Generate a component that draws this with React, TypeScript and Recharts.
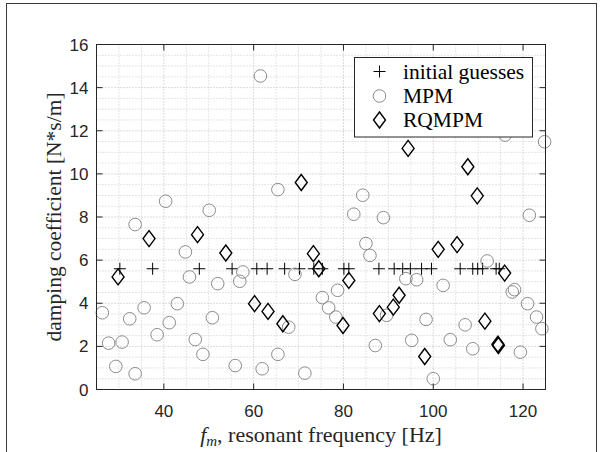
import React from 'react';
import { ScatterChart, Scatter, XAxis, YAxis, CartesianGrid } from 'recharts';

// initial guesses (+)
const guessFreq = [30.2, 37.5, 47.9, 55.2, 60.7, 63.0, 66.9, 70.2, 73.4, 75.3, 80.1, 81.2, 87.9, 91.3, 93.2, 94.9, 97.4, 99.6, 106.0, 108.8, 109.9, 111.0, 114.0, 114.7];
const guessDamp = [5.6, 5.6, 5.6, 5.6, 5.6, 5.6, 5.6, 5.6, 5.6, 5.6, 5.6, 5.6, 5.6, 5.6, 5.6, 5.6, 5.6, 5.6, 5.6, 5.6, 5.6, 5.6, 5.6, 5.6];

// MPM (grey circles)
const mpmFreq = [26.3, 27.7, 29.3, 30.7, 32.4, 33.6, 33.6, 35.6, 38.5, 40.4, 41.2, 43.0, 44.8, 45.7, 47.0, 48.7, 50.1, 50.8, 52.0, 55.9, 56.9, 57.6, 61.5, 61.9, 65.4, 65.4, 67.8, 69.2, 71.4, 75.3, 76.7, 78.3, 78.7, 82.3, 84.3, 85.0, 85.9, 87.1, 88.9, 89.6, 93.9, 95.2, 96.3, 98.4, 100.0, 102.2, 103.8, 107.1, 108.8, 112.0, 116.0, 117.6, 118.1, 119.4, 121.0, 121.4, 123.0, 124.2, 124.8];
const mpmDamp = [3.56, 2.15, 1.07, 2.2, 3.28, 7.65, 0.73, 3.79, 2.54, 8.73, 3.1, 3.98, 6.38, 5.22, 2.32, 1.63, 8.31, 3.33, 4.91, 1.11, 5.02, 5.45, 14.54, 0.96, 9.27, 1.63, 2.89, 5.34, 0.76, 4.26, 3.79, 3.36, 4.6, 8.13, 9.01, 6.77, 6.22, 2.04, 7.97, 3.44, 5.14, 2.28, 5.09, 3.25, 0.5, 4.83, 2.31, 3.0, 1.89, 5.96, 11.8, 4.52, 4.63, 1.73, 3.98, 8.08, 3.36, 2.82, 11.49];

// RQMPM (black diamonds)
const rqFreq = [29.8, 36.7, 47.5, 53.8, 60.2, 63.2, 66.5, 70.6, 73.3, 74.5, 79.9, 81.2, 88.0, 91.1, 92.4, 94.4, 98.1, 101.1, 105.3, 107.7, 109.8, 111.5, 114.4, 114.5, 115.9];
const rqDamp = [5.22, 7.0, 7.18, 6.33, 3.98, 3.62, 3.05, 9.6, 6.3, 5.6, 2.97, 5.06, 3.52, 3.82, 4.37, 11.18, 1.53, 6.5, 6.72, 10.33, 8.98, 3.17, 2.1, 2.04, 5.4];

const xTicks = [40, 60, 80, 100, 120];
const yTicks = [0, 2, 4, 6, 8, 10, 12, 14, 16];
const xMinor = [25, 30, 35, 45, 50, 55, 65, 70, 75, 85, 90, 95, 105, 110, 115, 125];
const yMinor = [0.5, 1, 1.5, 2.5, 3, 3.5, 4.5, 5, 5.5, 6.5, 7, 7.5, 8.5, 9, 9.5, 10.5, 11, 11.5, 12.5, 13, 13.5, 14.5, 15, 15.5];

const X_MIN = 25;
const X_MAX = 125;
const Y_MIN = 0;
const Y_MAX = 16;

// plot box (matches chart margins + axis sizes below)
const W = 603;
const H = 452;
const M = { top: 44.5, right: 57.5, bottom: 32.5, left: 56.5 };
const Y_AXIS_W = 40;
const X_AXIS_H = 30;
const BOX_L = M.left + Y_AXIS_W;
const BOX_R = W - M.right;
const BOX_T = M.top;
const BOX_B = H - M.bottom - X_AXIS_H;
const sx = (v: number) => BOX_L + ((v - X_MIN) / (X_MAX - X_MIN)) * (BOX_R - BOX_L);
const sy = (v: number) => BOX_B - ((v - Y_MIN) / (Y_MAX - Y_MIN)) * (BOX_B - BOX_T);
const TICK = 6;

const toPoints = (xs: number[], ys: number[]) => xs.map((x, i) => ({ x, y: ys[i] }));
const guessData = toPoints(guessFreq, guessDamp);
const mpmData = toPoints(mpmFreq, mpmDamp);
const rqData = toPoints(rqFreq, rqDamp);

const AX = '#262626';
const GREY = '#8c8c8c';

const PlusMark = (p: any) => (
  <path d={`M${p.cx - 6},${p.cy}h12M${p.cx},${p.cy - 6}v12`} stroke="#000" strokeWidth={1} fill="none" />
);
const CircleMark = (p: any) => <circle cx={p.cx} cy={p.cy} r={6.3} stroke={GREY} strokeWidth={1} fill="none" />;
const DiamondMark = (p: any) => (
  <path
    d={`M${p.cx},${p.cy - 8}L${p.cx + 6},${p.cy}L${p.cx},${p.cy + 8}L${p.cx - 6},${p.cy}Z`}
    stroke="#000"
    strokeWidth={1.4}
    fill="none"
  />
);

const serif = '"Liberation Serif", "Times New Roman", serif';
const sans = '"Liberation Sans", Arial, sans-serif';
const tickStyle = { fontSize: 17, fill: AX, fontFamily: sans };

export default function App() {
  return (
    <div style={{ position: 'absolute', left: 0, top: 0, width: W, height: H, background: '#fff', overflow: 'hidden' }}>
      <ScatterChart width={W} height={H} margin={M}>
        <CartesianGrid horizontalValues={yMinor} verticalValues={xMinor} stroke="#cacaca" strokeDasharray="1 2" />
        <CartesianGrid horizontalValues={yTicks} verticalValues={xTicks} stroke="#b8b8b8" strokeDasharray="1 2" />
        <XAxis
          type="number"
          dataKey="x"
          domain={[X_MIN, X_MAX]}
          ticks={xTicks}
          interval={0}
          height={X_AXIS_H}
          tickLine={false}
          tickSize={0}
          tickMargin={15}
          tick={tickStyle}
          stroke={AX}
        />
        <YAxis
          type="number"
          dataKey="y"
          domain={[Y_MIN, Y_MAX]}
          ticks={yTicks}
          interval={0}
          width={Y_AXIS_W}
          tickLine={false}
          tickSize={0}
          tickMargin={8}
          tick={tickStyle}
          stroke={AX}
        />
        <Scatter name="initial guesses" data={guessData} shape={PlusMark} isAnimationActive={false} />
        <Scatter name="MPM" data={mpmData} shape={CircleMark} isAnimationActive={false} />
        <Scatter name="RQMPM" data={rqData} shape={DiamondMark} isAnimationActive={false} />
      </ScatterChart>

      <svg width={W} height={H} style={{ position: 'absolute', left: 0, top: 0, pointerEvents: 'none' }}>
        {/* figure frame */}
        <rect x={6.5} y={3.5} width={590} height={470} fill="none" stroke="#3a3a3a" strokeWidth={1} />
        {/* axes box with inward ticks on all sides */}
        <rect x={BOX_L} y={BOX_T} width={BOX_R - BOX_L} height={BOX_B - BOX_T} fill="none" stroke={AX} strokeWidth={1} />
        <g stroke={AX} strokeWidth={1}>
          {xTicks.map((t) => (
            <g key={`x${t}`}>
              <line x1={sx(t)} x2={sx(t)} y1={BOX_B} y2={BOX_B - TICK} />
              <line x1={sx(t)} x2={sx(t)} y1={BOX_T} y2={BOX_T + TICK} />
            </g>
          ))}
          {yTicks.map((t) => (
            <g key={`y${t}`}>
              <line x1={BOX_L} x2={BOX_L + TICK} y1={sy(t)} y2={sy(t)} />
              <line x1={BOX_R} x2={BOX_R - TICK} y1={sy(t)} y2={sy(t)} />
            </g>
          ))}
        </g>
        <g>
          <rect x={354.5} y={57.5} width={178} height={79.5} fill="#fff" stroke={AX} strokeWidth={1} />
          <PlusMark cx={379.5} cy={71.5} />
          <CircleMark cx={379.5} cy={96} />
          <DiamondMark cx={379.5} cy={120} />
          <g fontFamily={serif} fontSize={21.5} fill="#000">
            <text x={403} y={78.5}>initial guesses</text>
            <text x={403} y={103}>MPM</text>
            <text x={403} y={127}>RQMPM</text>
          </g>
        </g>
        <text
          x={0}
          y={0}
          transform="translate(61,217) rotate(-90)"
          textAnchor="middle"
          fontFamily={serif}
          fontSize={21.5}
          fill={AX}
        >
          damping coefficient [N*s/m]
        </text>
        <text x={321} y={442} textAnchor="middle" fontFamily={serif} fontSize={22} fill={AX}>
          <tspan fontStyle="italic">f</tspan>
          <tspan fontStyle="italic" fontSize={15} dy={4}>m</tspan>
          <tspan dy={-4}>, resonant frequency [Hz]</tspan>
        </text>
      </svg>
    </div>
  );
}
